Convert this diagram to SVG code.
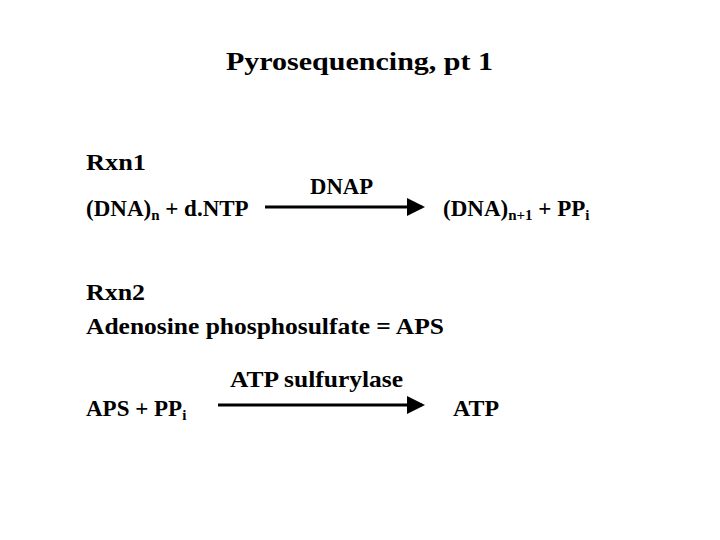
<svg xmlns="http://www.w3.org/2000/svg" width="720" height="540" viewBox="0 0 720 540">
<style>
text{font-family:"Liberation Serif","DejaVu Serif",serif;font-weight:bold;font-size:23px;fill:#000}
.s{font-size:15px}
line{stroke:#000;stroke-width:3}
</style>
<defs><marker id="a" markerWidth="6" markerHeight="6" refX="5" refY="3" orient="auto" markerUnits="strokeWidth"><path d="M0,0L6,3L0,6z" fill="#000"/></marker></defs>
<rect width="720" height="540" fill="#fff"/>
<text x="226" y="70" style="font-size:26px" textLength="267" lengthAdjust="spacingAndGlyphs">Pyrosequencing, pt 1</text>
<g id="rxn1">
<text x="86" y="170" textLength="60" lengthAdjust="spacingAndGlyphs">Rxn1</text>
<text x="86" y="216">(DNA)<tspan class="s" dy="4">n</tspan><tspan dy="-4"> + d.NTP</tspan></text>
<text x="310" y="194" textLength="63" lengthAdjust="spacingAndGlyphs">DNAP</text>
<text x="443" y="216">(DNA)<tspan class="s" dy="4">n+1</tspan><tspan dy="-4"> + PP</tspan><tspan class="s" dy="4">i</tspan></text>
</g>
<g id="rxn2">
<text x="86" y="300" textLength="59" lengthAdjust="spacingAndGlyphs">Rxn2</text>
<text x="86" y="334" textLength="358" lengthAdjust="spacingAndGlyphs">Adenosine phosphosulfate = APS</text>
<text x="86" y="416">APS + PP<tspan class="s" dy="4">i</tspan></text>
<text x="230" y="387" textLength="173" lengthAdjust="spacingAndGlyphs">ATP sulfurylase</text>
<text x="453" y="416" textLength="46" lengthAdjust="spacingAndGlyphs">ATP</text>
</g>
<g id="connectors">
<line x1="265" y1="207" x2="422" y2="207" marker-end="url(#a)"/>
<line x1="218" y1="405" x2="422" y2="405" marker-end="url(#a)"/>
</g>
</svg>
